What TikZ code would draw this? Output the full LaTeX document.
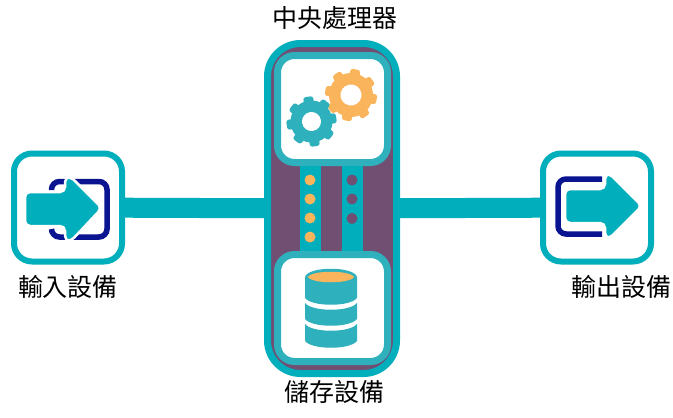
\documentclass[tikz,border=0pt]{standalone}
\usepackage{fontspec}
\usepackage{tikz}
\usetikzlibrary{shadows}
\newfontfamily\cjk{Noto Sans CJK TC}
\definecolor{tealline}{HTML}{00AEBC}
\definecolor{tealsoft}{HTML}{2FB1BD}
\definecolor{plum}{HTML}{714F73}
\definecolor{amber}{HTML}{F9B45C}
\definecolor{edgetan}{HTML}{F2C893}
\definecolor{navyline}{HTML}{0A1390}

\begin{document}
\begin{tikzpicture}[
    x=1pt,
    y=-1pt,
    label/.style={font=\cjk\fontsize{25}{29}\selectfont, text=black, inner sep=0pt},
    devbox/.style={draw=tealline, line width=6pt, fill=white, rounded corners=18pt, minimum width=108pt, minimum height=108pt, drop shadow={shadow xshift=1.2pt, shadow yshift=-1.2pt, fill=edgetan, opacity=1}},
    cpubody/.style={draw=tealline, line width=7pt, fill=plum, rounded corners=33pt, minimum width=129pt, minimum height=330pt, drop shadow={shadow xshift=1.5pt, shadow yshift=-1.5pt, fill=edgetan, opacity=1}},
    unitbox/.style={draw=tealsoft, line width=7pt, fill=white, rounded corners=17pt, minimum width=110pt, minimum height=107pt},
    link/.style={draw=tealline, line width=20pt},
    bus/.style={draw=tealline, line width=21pt},
    amberdot/.style={circle, fill=amber, minimum size=11pt, inner sep=0pt},
    plumdot/.style={circle, fill=plum, minimum size=11pt, inner sep=0pt},
    bigarrow/.style={fill=tealline, draw=white, line width=2.5pt, rounded corners=5pt},
    bracket/.style={draw=navyline, line width=5.5pt, rounded corners=8pt},
    gear/.pic={
        \foreach \a in {0,45,...,315} {
            \fill[pic actions, rotate=\a, rounded corners=2.5pt] (-5,-#1) rectangle (5,-#1+10);
        }
        \fill[pic actions] (0,0) circle[radius=#1-4];
        \fill[white] (0,0) circle[radius=#1-15.5];
    }
]
\useasboundingbox (0,0) rectangle (673,418);

\node[devbox] (input) at (68,207.5) {};
\node[devbox] (output) at (597,207.5) {};
\node[cpubody] (cpu) at (332,208.5) {};
\node[unitbox] (gears) at (332.5,109) {};
\node[unitbox] (store) at (332.5,308) {};

\draw[link] (input) -- (cpu);
\draw[link] (cpu) -- (output);
\draw[bus] (gears.south -| 310.5,0) -- (store.north -| 310.5,0);
\draw[bus] (gears.south -| 352.5,0) -- (store.north -| 352.5,0);

\foreach \y [count=\i] in {180,199,218,237} {
    \node[amberdot] (up\i) at (310,\y) {};
}
\foreach \y [count=\i] in {180,199,218.5} {
    \node[plumdot] (down\i) at (352,\y) {};
}

% gears
\pic[fill=amber, rotate=-10] at (351,95) {gear=26};
\pic[fill=tealsoft, rotate=8] at (311.5,121.5) {gear=25};

% database
\fill[tealsoft] (305,277) .. controls (308,266) and (354,266) .. (357,277) -- (357,298) .. controls (350,307) and (312,307) .. (305,298) -- cycle;
\fill[amber] (308,277) .. controls (312,270) and (350,270) .. (354,277) .. controls (350,284) and (312,284) .. (308,277) -- cycle;
\fill[tealsoft] (305,303) .. controls (312,312) and (350,312) .. (357,303) -- (357,319) .. controls (350,328) and (312,328) .. (305,319) -- cycle;
\fill[tealsoft] (305,324) .. controls (312,333) and (350,333) .. (357,324) -- (357,341) .. controls (350,350) and (312,350) .. (305,341) -- cycle;

% input icon
\draw[bracket] (51.5,190) -- (51.5,181.5) -- (107,181.5) -- (107,237) -- (51.5,237) -- (51.5,229);
\path[bigarrow] (25,192) -- (65,192) -- (65,177) -- (71,177) -- (102,208) -- (71,241) -- (65,241) -- (65,226) -- (25,226) -- cycle;

% output icon
\draw[bracket] (602,179) -- (558,179) -- (558,234) -- (602,234);
\path[bigarrow] (565,189) -- (605,189) -- (605,174) -- (610,174) -- (642,206) -- (610,238) -- (605,238) -- (605,223) -- (565,223) -- cycle;

\node[label] (inlabel) at (68,287) {輸入設備};
\node[label] (outlabel) at (621,287) {輸出設備};
\node[label] (cpulabel) at (335,18) {中央處理器};
\node[label] (storelabel) at (334,392) {儲存設備};
\end{tikzpicture}
\end{document}
